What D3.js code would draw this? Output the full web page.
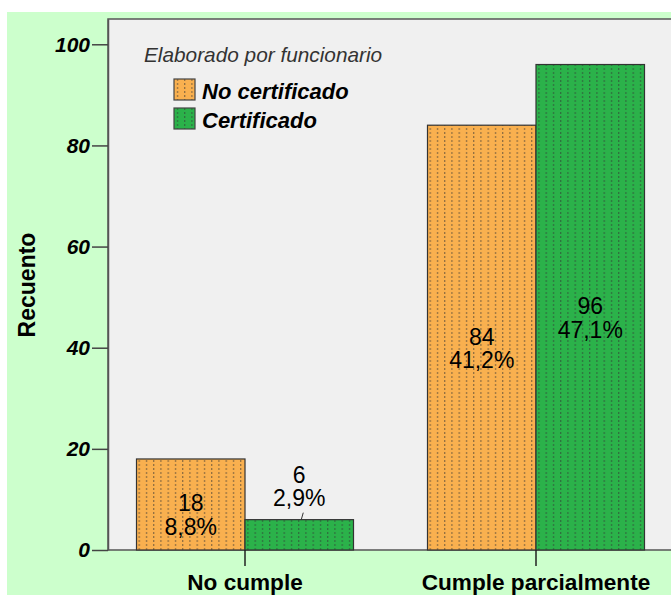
<!DOCTYPE html>
<html>
<head>
<meta charset="utf-8">
<script src="https://cdn.jsdelivr.net/npm/d3@7"></script>
<style>
  body { margin: 0; background: #ffffff; }
  svg { display: block; font-family: "Liberation Sans", Arial, sans-serif; }
</style>
</head>
<body>
<div id="chart"></div>
<script>
// data
const categories = ["No cumple", "Cumple parcialmente"];
const series = ["No certificado", "Certificado"];
const noCertificado = [18, 84];
const certificado = [6, 96];
const noCertPct = ["8,8%", "41,2%"];
const certPct = ["2,9%", "47,1%"];
const yTicks = [0, 20, 40, 60, 80, 100];

const width = 671, height = 595;
const colors = ["#f9b04f", "#2bb24a"];

const svg = d3.select("#chart")
  .append("svg")
    .attr("width", width)
    .attr("height", height);

// hatch patterns (vertical dotted lines)
const defs = svg.append("defs");
series.forEach((s, i) => {
  const p = defs.append("pattern")
      .attr("id", "pat" + i)
      .attr("patternUnits", "userSpaceOnUse")
      .attr("x", 1)
      .attr("width", 7.25)
      .attr("height", 4);
  p.append("rect")
      .attr("width", 7.25).attr("height", 4)
      .attr("fill", colors[i]);
  p.append("rect")
      .attr("x", 2).attr("y", 0)
      .attr("width", 1).attr("height", 2)
      .attr("fill", "#333")
      .attr("fill-opacity", 0.65);
});

// green outer background
svg.append("rect")
    .attr("x", 7).attr("y", 12)
    .attr("width", width - 7).attr("height", height - 12)
    .attr("fill", "#ccffcc");

const plotLeft = 108, plotTop = 19, plotBottom = 550;

// grey plot panel
svg.append("rect")
    .attr("x", plotLeft).attr("y", plotTop)
    .attr("width", width - plotLeft + 5).attr("height", plotBottom - plotTop)
    .attr("fill", "#f0f0f0")
    .attr("stroke", "#555")
    .attr("stroke-width", 1.5);

const y = d3.scaleLinear()
    .domain([0, 105])
    .range([plotBottom, plotTop]);

const x0 = d3.scaleBand()
    .domain(categories)
    .range([99.5, 681.5]);

const x1 = d3.scaleBand()
    .domain(series)
    .range([x0.bandwidth() / 2 - 108.5, x0.bandwidth() / 2 + 108.5]);

const rows = categories.map((c, i) => ({
  cat: c,
  vals: [
    { s: series[0], v: noCertificado[i], pct: noCertPct[i], k: 0 },
    { s: series[1], v: certificado[i], pct: certPct[i], k: 1 }
  ]
}));

const groups = svg.selectAll(".grp")
  .data(rows)
  .join("g")
    .attr("class", "grp")
    .attr("transform", d => `translate(${x0(d.cat)},0)`);

groups.selectAll("rect")
  .data(d => d.vals)
  .join("rect")
    .attr("x", d => x1(d.s))
    .attr("y", d => y(d.v))
    .attr("width", x1.bandwidth())
    .attr("height", d => y(0) - y(d.v))
    .attr("fill", d => `url(#pat${d.k})`)
    .attr("stroke", "#333")
    .attr("stroke-width", 1.2);

// value labels
const labels = groups.selectAll(".lbl")
  .data(d => d.vals)
  .join("text")
    .attr("class", "lbl")
    .attr("text-anchor", "middle")
    .attr("fill", "#000")
    .style("font-size", "23px")
    .attr("transform", d => {
      const cx = x1(d.s) + x1.bandwidth() / 2;
      const h = y(0) - y(d.v);
      const cy = h < 40 ? y(d.v) - 37 : (y(d.v) + y(0)) / 2 + 7;
      return `translate(${cx},${cy})`;
    });
labels.append("tspan").attr("x", 0).attr("dy", 0).text(d => d.v);
labels.append("tspan").attr("x", 0).attr("dy", 23.5).text(d => d.pct);

// little leader line for labels put above short bars
groups.selectAll(".lead")
  .data(d => d.vals.filter(v => y(0) - y(v.v) < 40))
  .join("line")
    .attr("class", "lead")
    .attr("x1", d => x1(d.s) + x1.bandwidth() / 2 + 4)
    .attr("x2", d => x1(d.s) + x1.bandwidth() / 2 + 2)
    .attr("y1", d => y(d.v) - 7)
    .attr("y2", d => y(d.v))
    .attr("stroke", "#333")
    .attr("stroke-width", 1);

// y axis
const yAxis = svg.append("g")
    .attr("transform", `translate(${plotLeft},0)`)
    .call(d3.axisLeft(y).tickValues(yTicks).tickSize(16).tickSizeOuter(0).tickPadding(2));
yAxis.select(".domain").attr("stroke", "#555").attr("stroke-width", 1.5);
yAxis.selectAll(".tick line").attr("stroke", "#444").attr("stroke-width", 1.5);
yAxis.selectAll(".tick text")
    .attr("fill", "#000")
    .attr("font-size", 21)
    .attr("font-family", "Liberation Sans, Arial, sans-serif")
    .style("font-weight", "bold")
    .style("font-style", "italic");

// x axis
const xAxis = svg.append("g")
    .attr("transform", `translate(0,${plotBottom})`)
    .call(d3.axisBottom(x0).tickSize(16).tickSizeOuter(0).tickPadding(6));
xAxis.select(".domain").remove();
xAxis.selectAll(".tick line").attr("stroke", "#222").attr("stroke-width", 1.5);
xAxis.selectAll(".tick text")
    .attr("fill", "#000")
    .attr("dy", "0.78em")
    .attr("font-size", 22.6)
    .attr("font-family", "Liberation Sans, Arial, sans-serif")
    .style("font-weight", "bold");

// y axis title
svg.append("text")
    .attr("transform", "translate(35,285) rotate(-90)")
    .attr("text-anchor", "middle")
    .attr("fill", "#000")
    .style("font-size", "23px")
    .style("font-weight", "bold")
    .text("Recuento");

// legend
svg.append("text")
    .attr("x", 144).attr("y", 62)
    .attr("fill", "#333")
    .style("font-size", "20.8px")
    .style("font-style", "italic")
    .text("Elaborado por funcionario");

const legend = svg.selectAll(".leg")
  .data(series)
  .join("g")
    .attr("class", "leg")
    .attr("transform", (d, i) => `translate(174,${79 + i * 29})`);
legend.append("rect")
    .attr("width", 21).attr("height", 21)
    .attr("fill", (d, i) => `url(#pat${i})`)
    .attr("stroke", "#444")
    .attr("stroke-width", 1.2);
legend.append("text")
    .attr("x", 28).attr("y", 20)
    .attr("fill", "#000")
    .style("font-size", "22px")
    .style("font-weight", "bold")
    .style("font-style", "italic")
    .text(d => d);
</script>
</body>
</html>
